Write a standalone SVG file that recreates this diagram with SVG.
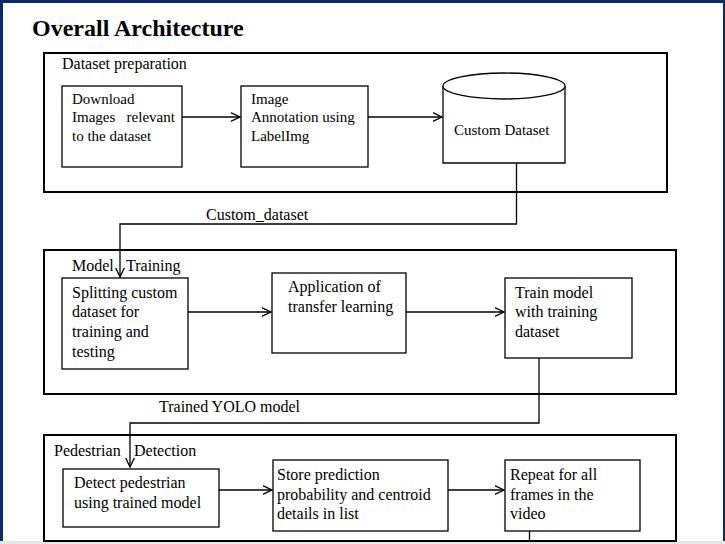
<svg xmlns="http://www.w3.org/2000/svg" width="725" height="544" viewBox="0 0 725 544">
<defs>
<style>
text{font-family:"Liberation Serif","Times New Roman",serif;fill:#000}
.t15{font-size:15px}
.t16{font-size:16px}
.title{font-size:24px;font-weight:bold}
.panel{fill:none;stroke:#000;stroke-width:2}
.box{fill:#fff;stroke:#000;stroke-width:1.3}
.conn{fill:none;stroke:#000;stroke-width:1.3}
</style>
<marker id="arr" viewBox="0 0 10 10" refX="9.5" refY="5" markerWidth="10" markerHeight="10" markerUnits="userSpaceOnUse" orient="auto">
<path d="M0,0.5 L9.5,5 L0,9.5" fill="none" stroke="#000" stroke-width="1.3"/>
</marker>
</defs>
<rect x="0" y="0" width="725" height="544" fill="#fff"/>
<rect x="0" y="0" width="725" height="3" fill="#0b2a66"/>
<rect x="0" y="0" width="3" height="541" fill="#0b2a66"/>
<rect x="723" y="0" width="2" height="541" fill="#0b2a66"/>
<rect x="0" y="541" width="725" height="3" fill="#e6e6e6"/>
<text class="title" x="32" y="36">Overall Architecture</text>

<g id="panel-dataset-preparation">
<rect class="panel" x="44" y="53" width="623" height="139"/>
<text class="t16" x="62" y="69">Dataset preparation</text>
</g>
<g id="node-download">
<rect class="box" x="62" y="86" width="120" height="81"/>
<text class="t15" x="72" y="104">Download</text>
<text class="t15" x="72" y="122" xml:space="preserve">Images   relevant</text>
<text class="t15" x="72" y="141">to the dataset</text>
</g>
<g id="node-annotation">
<rect class="box" x="241" y="86" width="127" height="81"/>
<text class="t15" x="251" y="104">Image</text>
<text class="t15" x="251" y="122">Annotation using</text>
<text class="t15" x="251" y="141">LabelImg</text>
</g>
<g id="node-custom-dataset">
<path class="box" d="M443,86 L443,163 L565,163 L565,86"/>
<ellipse class="box" cx="504" cy="86" rx="61" ry="13"/>
<text class="t15" x="454" y="135">Custom Dataset</text>
</g>

<g id="panel-model-training">
<rect class="panel" x="44" y="250" width="632" height="144"/>
<text class="t16" x="72" y="271">Model</text>
<text class="t16" x="126" y="271">Training</text>
</g>
<g id="node-splitting">
<rect class="box" x="62" y="278" width="126" height="91"/>
<text class="t16" x="72" y="298">Splitting custom</text>
<text class="t16" x="72" y="317">dataset for</text>
<text class="t16" x="72" y="337">training and</text>
<text class="t16" x="72" y="357">testing</text>
</g>
<g id="node-transfer">
<rect class="box" x="272" y="273" width="134" height="80"/>
<text class="t16" x="288" y="292">Application of</text>
<text class="t16" x="288" y="312">transfer learning</text>
</g>
<g id="node-train">
<rect class="box" x="505" y="278" width="127" height="80"/>
<text class="t16" x="515" y="298">Train model</text>
<text class="t16" x="515" y="317">with training</text>
<text class="t16" x="515" y="337">dataset</text>
</g>

<g id="panel-pedestrian-detection">
<rect class="panel" x="44" y="435" width="632" height="106"/>
<text class="t16" x="54" y="456">Pedestrian</text>
<text class="t16" x="134" y="456">Detection</text>
</g>
<g id="node-detect">
<rect class="box" x="63" y="469" width="156" height="58"/>
<text class="t16" x="74" y="488">Detect pedestrian</text>
<text class="t16" x="74" y="508">using trained model</text>
</g>
<g id="node-store">
<rect class="box" x="273" y="460" width="175" height="71"/>
<text class="t16" x="277" y="480">Store prediction</text>
<text class="t16" x="277" y="500">probability and centroid</text>
<text class="t16" x="277" y="519">details in list</text>
</g>
<g id="node-repeat">
<rect class="box" x="505" y="460" width="135" height="71"/>
<text class="t16" x="510" y="480">Repeat for all</text>
<text class="t16" x="510" y="500">frames in the</text>
<text class="t16" x="510" y="519">video</text>
</g>

<g id="connectors">
<line class="conn" x1="182" y1="117" x2="240" y2="117" marker-end="url(#arr)"/>
<line class="conn" x1="368" y1="117" x2="442" y2="117" marker-end="url(#arr)"/>
<polyline class="conn" points="516.5,163 516.5,224 120,224 120,277" marker-end="url(#arr)"/>
<text class="t16" x="206" y="220">Custom_dataset</text>
<line class="conn" x1="188" y1="312" x2="271" y2="312" marker-end="url(#arr)"/>
<line class="conn" x1="406" y1="312" x2="504" y2="312" marker-end="url(#arr)"/>
<polyline class="conn" points="539,358 539,423 130,423 130,467" marker-end="url(#arr)"/>
<text class="t16" x="159" y="412">Trained YOLO model</text>
<line class="conn" x1="219" y1="490" x2="272" y2="490" marker-end="url(#arr)"/>
<line class="conn" x1="448" y1="490" x2="504" y2="490" marker-end="url(#arr)"/>
<line class="conn" x1="529.5" y1="531" x2="529.5" y2="541"/>
</g>
</svg>
